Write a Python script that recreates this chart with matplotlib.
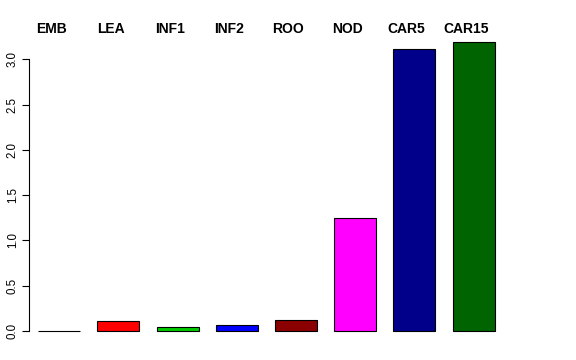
import matplotlib
matplotlib.use("Agg")
import matplotlib.pyplot as plt

categories = ["EMB", "LEA", "INF1", "INF2", "ROO", "NOD", "CAR5", "CAR15"]
values = [0.004, 0.114, 0.048, 0.07, 0.12, 1.25, 3.11, 3.19]
colors = ["black", "red", "#00CD00", "blue", "#8B0000", "magenta", "#00008B", "#006400"]
yticks = [0.0, 0.5, 1.0, 1.5, 2.0, 2.5, 3.0]

plt.rcParams['font.family'] = ['Liberation Sans', 'DejaVu Sans']

W, H = 576, 360
fig = plt.figure(figsize=(W / 100, H / 100), dpi=100)

px_per_unit_x = 59.2
left_px, right_px = 28.7, 540.0
x0 = (left_px - 59.2) / px_per_unit_x
x1 = (right_px - 59.2) / px_per_unit_x

px_per_unit_y = 90.6
zero_px = 331.0
bot_px, top_px = 343.0, 28.0
y0 = -(bot_px - zero_px) / px_per_unit_y
y1 = (zero_px - top_px) / px_per_unit_y

ax = fig.add_axes([left_px / W, 1 - bot_px / H, (right_px - left_px) / W, (bot_px - top_px) / H])
xs = list(range(len(categories)))
ax.bar(xs, values, width=0.71, color=colors, edgecolor="black", linewidth=0.8)
ax.set_xlim(x0, x1)
ax.set_ylim(y0, y1)

for s in ["top", "right", "bottom"]:
    ax.spines[s].set_visible(False)
ax.spines["left"].set_bounds(0, 3.0)
ax.spines["left"].set_linewidth(0.8)
ax.set_xticks([])
ax.set_yticks(yticks)
ax.set_yticklabels([f"{t:.1f}" for t in yticks], rotation=90, va="center", fontsize=8.3)
ax.tick_params(axis="y", length=5.2, width=0.8, pad=2)

for x, c in zip(xs, categories):
    ax.text(x - 0.13, 1 - (29.0 - top_px) / (bot_px - top_px), c, transform=ax.get_xaxis_transform(),
            ha="center", va="center", fontsize=10, fontweight="bold")

fig.savefig("out.png", dpi=100)
